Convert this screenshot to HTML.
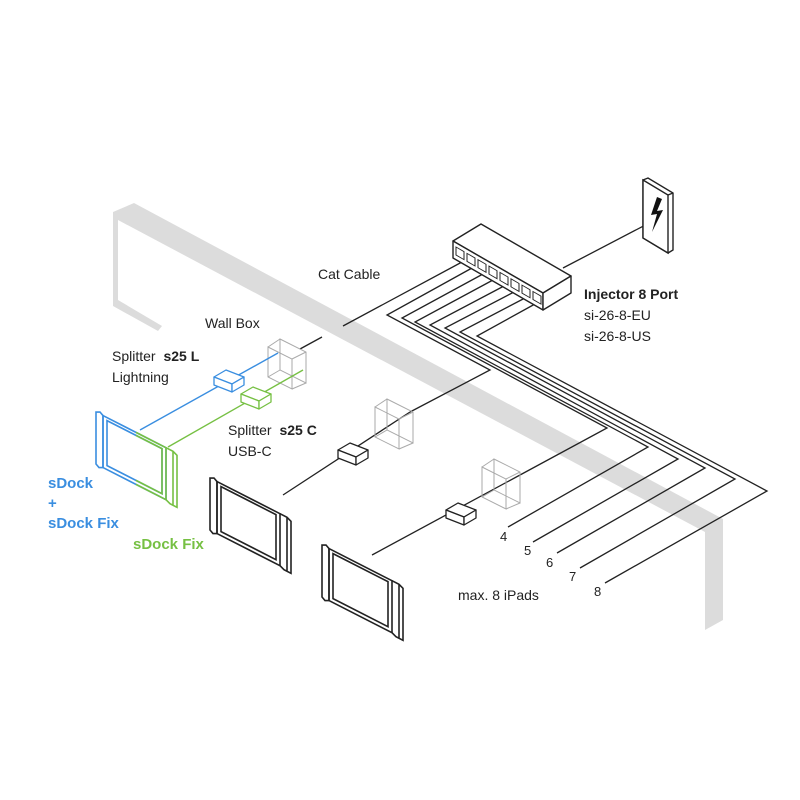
<!DOCTYPE html>
<html><head><meta charset="utf-8"><style>
body{margin:0;background:#fff}
svg{display:block}
text{font-family:"Liberation Sans",sans-serif;font-size:14px;fill:#222}
</style></head><body>
<svg width="800" height="800" viewBox="0 0 800 800" xmlns="http://www.w3.org/2000/svg">
<polygon points="113,212 134,203 723,519 723,620 705,630 705,532 118,220 118,303 113,306" fill="#dcdcdc"/>
<polygon points="113,300 118,300 162,326 158,331 113,306" fill="#dcdcdc"/>

<g fill="none" stroke="#222" stroke-width="1.3">
<line x1="563" y1="268" x2="655" y2="220"/>
<polyline points="462,262 343,326"/>
<line x1="322" y1="337" x2="300" y2="349"/>
<polyline points="472,268 387,315 490,370 410,412"/>
<polyline points="483,274 402,318 607,428 520,475"/>
<polyline points="493,280 415,322 648,447 508,527"/>
<polyline points="504,286 430,325 678,459 533,542"/>
<polyline points="514,292 445,328 705,468 557,553"/>
<polyline points="525,298 460,332 735,479 580,568"/>
<polyline points="535,304 477,336 767,491 605,583"/>
<line x1="410" y1="412" x2="283" y2="495"/>
<line x1="520" y1="475" x2="372" y2="555"/>
</g>

<g stroke="#222" stroke-width="1.4" fill="#fff" stroke-linejoin="round">
<polygon points="453,241 481,224 571,276 543,293"/>
<polygon points="453,241 543,293 543,310 453,258"/>
<polygon points="543,293 571,276 571,293 543,310"/>
</g>
<g fill="none" stroke="#222" stroke-width="1">
<g transform="matrix(1,0.578,0,1,456,247)">
<rect x="0" y="0" width="8" height="8"/><rect x="11" y="0" width="8" height="8"/><rect x="22" y="0" width="8" height="8"/><rect x="33" y="0" width="8" height="8"/><rect x="44" y="0" width="8" height="8"/><rect x="55" y="0" width="8" height="8"/><rect x="66" y="0" width="8" height="8"/><rect x="77" y="0" width="8" height="8"/>
</g>
</g>
<g stroke="#222" stroke-width="1.4" fill="#fff">
<polygon points="643,180 648,178 673,193 673,250 668,253 643,238"/>
<polygon points="643,180 668,195 668,253 643,238"/>
<line x1="668" y1="195" x2="673" y2="193"/>
</g>
<polygon points="657,197 651,215 657,214 652,232 663,210 657,211 662,199" fill="#111"/>

<g fill="none" stroke="#aaa" stroke-width="1">
<g><polygon points="268,347 292,359 292,389 268,377"/><polygon points="280,339 306,352 306,383 280,370"/><line x1="268" y1="347" x2="280" y2="339"/><line x1="292" y1="359" x2="306" y2="352"/><line x1="292" y1="389" x2="306" y2="383"/><line x1="268" y1="377" x2="280" y2="370"/></g>
<g transform="translate(107,60)"><polygon points="268,347 292,359 292,389 268,377"/><polygon points="280,339 306,352 306,383 280,370"/><line x1="268" y1="347" x2="280" y2="339"/><line x1="292" y1="359" x2="306" y2="352"/><line x1="292" y1="389" x2="306" y2="383"/><line x1="268" y1="377" x2="280" y2="370"/></g>
<g transform="translate(214,120)"><polygon points="268,347 292,359 292,389 268,377"/><polygon points="280,339 306,352 306,383 280,370"/><line x1="268" y1="347" x2="280" y2="339"/><line x1="292" y1="359" x2="306" y2="352"/><line x1="292" y1="389" x2="306" y2="383"/><line x1="268" y1="377" x2="280" y2="370"/></g>
</g>

<line x1="278" y1="353" x2="140" y2="430" stroke="#3a8ee0" stroke-width="1.4"/>
<line x1="303" y1="370" x2="168" y2="447" stroke="#76c043" stroke-width="1.4"/>

<g stroke-width="1.3" stroke-linejoin="round">
<g stroke="#3a8ee0" fill="#fff"><polygon points="214,377 226,370 244,377 232,384"/><polygon points="214,377 232,384 232,392 214,385"/><polygon points="232,384 244,377 244,385 232,392"/></g>
<g stroke="#76c043" fill="#fff"><polygon points="241,394 253,387 271,394 259,401"/><polygon points="241,394 259,401 259,409 241,402"/><polygon points="259,401 271,394 271,402 259,409"/></g>
<g stroke="#222" fill="#fff"><polygon points="338,450 350,443 368,450 356,457"/><polygon points="338,450 356,457 356,465 338,458"/><polygon points="356,457 368,450 368,458 356,465"/></g>
<g stroke="#222" fill="#fff"><polygon points="446,510 458,503 476,510 464,517"/><polygon points="446,510 464,517 464,525 446,518"/><polygon points="464,517 476,510 476,518 464,525"/></g>
</g>

<g fill="none" stroke-width="1.6">
<g transform="matrix(1,0.51,0,1,96,410)" stroke="#3a8ee0">
<path d="M0,2 L4,0 L7,2 L7,54 L3,56 L0,54 Z" vector-effect="non-scaling-stroke"/>
<rect x="7" y="2" width="63" height="52" vector-effect="non-scaling-stroke"/>
<rect x="11" y="5" width="55" height="45" vector-effect="non-scaling-stroke"/>
</g>
<g transform="matrix(1,0.51,0,1,96,410)" stroke="#76c043">
<path d="M40,2 L70,2 L70,54 L40,54 M40,5 L66,5 L66,50 L40,50" vector-effect="non-scaling-stroke"/>
<path d="M70,2 L77,2 L81,4 L81,56 L74,56 L70,54 M77,2 L77,56" vector-effect="non-scaling-stroke"/>
</g>
<g transform="matrix(1,0.51,0,1,210,476)" stroke="#222">
<path d="M0,2 L4,0 L7,2 L7,54 L3,56 L0,54 Z" vector-effect="non-scaling-stroke"/>
<rect x="7" y="2" width="63" height="52" vector-effect="non-scaling-stroke"/>
<rect x="11" y="5" width="55" height="45" vector-effect="non-scaling-stroke"/>
<path d="M70,2 L77,2 L81,4 L81,56 L74,56 L70,54 M77,2 L77,56" vector-effect="non-scaling-stroke"/>
</g>
<g transform="matrix(1,0.51,0,1,322,543)" stroke="#222">
<path d="M0,2 L4,0 L7,2 L7,54 L3,56 L0,54 Z" vector-effect="non-scaling-stroke"/>
<rect x="7" y="2" width="63" height="52" vector-effect="non-scaling-stroke"/>
<rect x="11" y="5" width="55" height="45" vector-effect="non-scaling-stroke"/>
<path d="M70,2 L77,2 L81,4 L81,56 L74,56 L70,54 M77,2 L77,56" vector-effect="non-scaling-stroke"/>
</g>
</g>

<text x="318" y="279">Cat Cable</text>
<text x="205" y="328">Wall Box</text>
<text x="112" y="361">Splitter <tspan font-weight="bold" dx="4">s25 L</tspan></text>
<text x="112" y="382">Lightning</text>
<text x="228" y="435">Splitter <tspan font-weight="bold" dx="4">s25 C</tspan></text>
<text x="228" y="456">USB-C</text>
<text x="584" y="299" font-weight="bold">Injector 8 Port</text>
<text x="584" y="320">si-26-8-EU</text>
<text x="584" y="341">si-26-8-US</text>
<text x="48" y="488" style="fill:#3a8ee0;font-weight:bold;font-size:15px">sDock</text>
<text x="48" y="508" style="fill:#3a8ee0;font-weight:bold;font-size:15px">+</text>
<text x="48" y="528" style="fill:#3a8ee0;font-weight:bold;font-size:15px">sDock Fix</text>
<text x="133" y="549" style="fill:#76c043;font-weight:bold;font-size:15px">sDock Fix</text>
<text x="458" y="600">max.  8 iPads</text>
<text x="500" y="541" style="font-size:13px">4</text>
<text x="524" y="555" style="font-size:13px">5</text>
<text x="546" y="567" style="font-size:13px">6</text>
<text x="569" y="581" style="font-size:13px">7</text>
<text x="594" y="596" style="font-size:13px">8</text>
</svg>
</body></html>
